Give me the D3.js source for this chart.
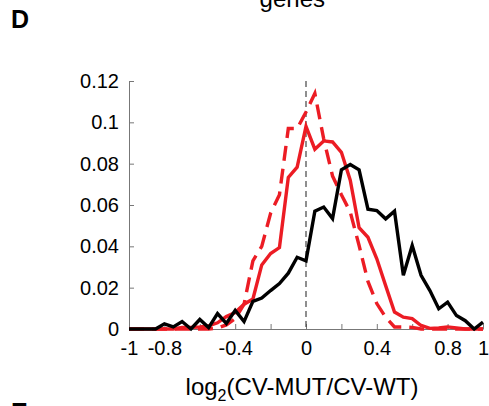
<!DOCTYPE html>
<html>
<head>
<meta charset="utf-8">
<script src="https://cdn.jsdelivr.net/npm/d3@7"></script>
<style>
  body { margin: 0; background: #fff; }
  text { font-family: "Liberation Sans", Arial, sans-serif; fill: #000; }
</style>
</head>
<body>
<div id="chart"></div>
<script>
// Bin centres (log2 ratio)
const bins = [-1, -0.95, -0.9, -0.85, -0.8, -0.75, -0.7, -0.65, -0.6, -0.55, -0.5,
  -0.45, -0.4, -0.35, -0.3, -0.25, -0.2, -0.15, -0.1, -0.05, 0,
  0.05, 0.1, 0.15, 0.2, 0.25, 0.3, 0.35, 0.4, 0.45, 0.5,
  0.55, 0.6, 0.65, 0.7, 0.75, 0.8, 0.85, 0.9, 0.95, 1];

// Frequencies for each series
const blackSeries = [0, 0, 0, 0, 0.0025, 0.001, 0.0036, 0, 0.0046, 0.0007, 0.0075,
  0.0027, 0.009, 0.0036, 0.0134, 0.015, 0.0186, 0.022, 0.027, 0.0347, 0.033,
  0.057, 0.059, 0.0534, 0.077, 0.0796, 0.077, 0.058, 0.0573, 0.0533, 0.057,
  0.026, 0.0404, 0.026, 0.0186, 0.0098, 0.013, 0.0065, 0.004, 0, 0.0033];

const redSolid = [0, 0, 0, 0, 0, 0, 0.0008, 0.0008, 0.001, 0.0015, 0.003,
  0.006, 0.008, 0.012, 0.0145, 0.031, 0.0365, 0.0394, 0.0733, 0.0783, 0.098,
  0.087, 0.091, 0.0905, 0.0855, 0.072, 0.049, 0.0444, 0.034, 0.021, 0.0082,
  0.0057, 0.005, 0.0017, 0.0003, 0.0005, 0.001, 0.0005, 0, 0, 0];

const redDashed = [0, 0, 0, 0, 0, 0, 0, 0, 0, 0, 0.0005,
  0.002, 0.005, 0.012, 0.033, 0.04, 0.056, 0.065, 0.097, 0.097, 0.105,
  0.114, 0.092, 0.074, 0.065, 0.0566, 0.0404, 0.023, 0.0123, 0.0057, 0.001,
  0.001, 0.0008, 0, 0, 0, 0, 0, 0, 0, 0];

// Axis ticks
const xTicks = [-1, -0.8, -0.6, -0.4, -0.2, 0, 0.2, 0.4, 0.6, 0.8, 1];
const xLabelled = [-1, -0.8, -0.4, 0, 0.4, 0.8, 1];
const yTicks = [0, 0.02, 0.04, 0.06, 0.08, 0.1, 0.12];

const W = 489, H = 406;
const margin = { top: 81, right: 6, bottom: 77, left: 129 };
const width = W - margin.left - margin.right;
const height = H - margin.top - margin.bottom;

const root = d3.select("#chart").append("svg")
  .attr("width", W)
  .attr("height", H);

const svg = root.append("g")
  .attr("transform", `translate(${margin.left},${margin.top})`);

const x = d3.scaleLinear().domain([-1, 1]).range([0, width]);
const y = d3.scaleLinear().domain([0, 0.12]).range([height, 0]);

// X axis (ticks point inward, plain hyphen minus like the original)
const xAxis = svg.append("g")
  .attr("transform", `translate(0,${height})`)
  .call(d3.axisBottom(x)
    .tickValues(xTicks)
    .tickSizeInner(-5)
    .tickSizeOuter(0)
    .tickPadding(12)
    .tickFormat(d => xLabelled.some(v => Math.abs(v - d) < 1e-9) ? String(+d.toFixed(1)) : ""));
xAxis.select(".domain").attr("stroke", "#777").attr("stroke-width", 1);
xAxis.selectAll(".tick line").attr("stroke", "#777");
xAxis.selectAll("text").style("font-size", "20px").attr("dy", "0.71em");

// Y axis
const yAxis = svg.append("g")
  .call(d3.axisLeft(y)
    .tickValues(yTicks)
    .tickSizeInner(-5)
    .tickSizeOuter(0)
    .tickPadding(10)
    .tickFormat(d => String(+d.toFixed(2))));
yAxis.select(".domain").attr("stroke", "#777").attr("stroke-width", 1);
yAxis.selectAll(".tick line").attr("stroke", "#777");
yAxis.selectAll("text").style("font-size", "20px");

// Dashed reference line at zero
svg.append("line")
  .attr("x1", x(0)).attr("x2", x(0))
  .attr("y1", y(0.12)).attr("y2", y(0))
  .attr("stroke", "#444")
  .attr("stroke-width", 1.2)
  .attr("stroke-dasharray", "6,4");

const line = d3.line()
  .x((d, i) => x(bins[i]))
  .y(d => y(d));

const series = [
  { values: redDashed, color: "#ec1c24", dash: "15,8" },
  { values: redSolid, color: "#ec1c24", dash: null },
  { values: blackSeries, color: "#000", dash: null }
];

svg.selectAll(".series")
  .data(series)
  .enter()
  .append("path")
  .attr("class", "series")
  .attr("fill", "none")
  .attr("stroke", d => d.color)
  .attr("stroke-width", 3.4)
  .attr("stroke-dasharray", d => d.dash)
  .attr("d", d => line(d.values));

// X-axis label with subscript
const xl = root.append("text")
  .attr("x", 302)
  .attr("y", 395)
  .attr("text-anchor", "middle")
  .style("font-size", "24px");
xl.append("tspan").text("log");
xl.append("tspan").attr("dy", 6).style("font-size", "16px").text("2");
xl.append("tspan").attr("dy", -6).text("(CV-MUT/CV-WT)");

// Panel letters and the cut-off title from the figure above
root.append("text")
  .attr("x", 11).attr("y", 28)
  .style("font-size", "25px").style("font-weight", "bold")
  .text("D");

root.append("text")
  .attr("x", 325).attr("y", 7)
  .attr("text-anchor", "end")
  .style("font-size", "24px")
  .text("genes");

root.append("text")
  .attr("x", 11).attr("y", 421)
  .style("font-size", "25px").style("font-weight", "bold")
  .text("E");
</script>
</body>
</html>
